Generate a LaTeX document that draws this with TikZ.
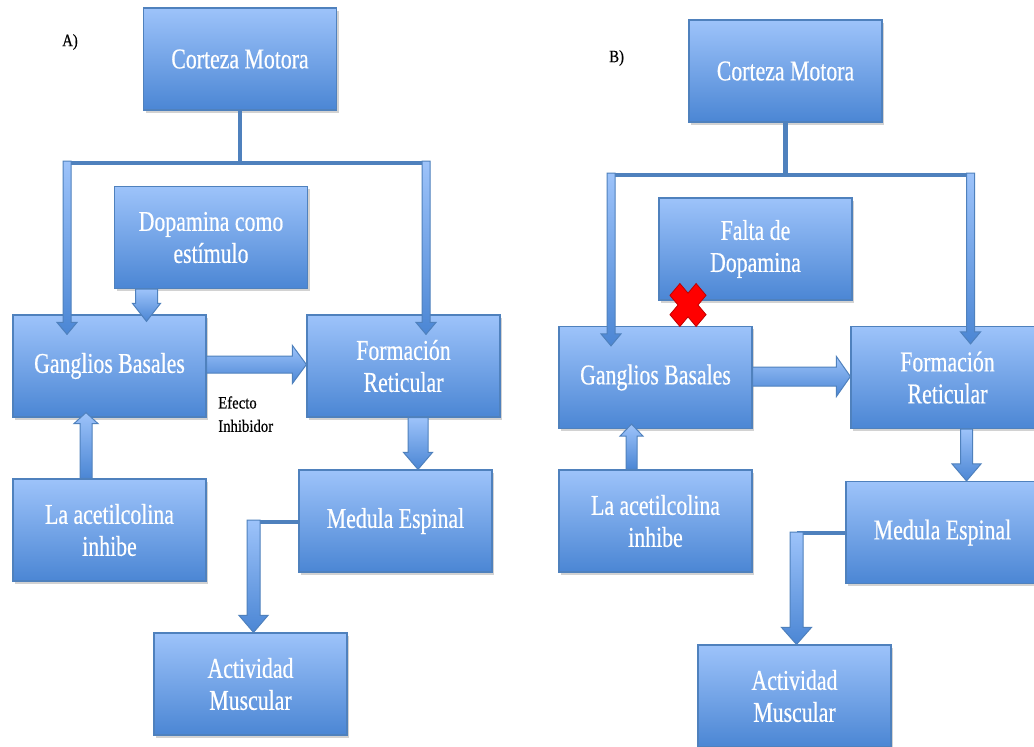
\documentclass[tikz,border=0pt]{standalone}
\usepackage{fontspec}
\setmainfont{Liberation Serif}[FakeStretch=0.76,FakeBold=0.5]
\newfontfamily\lblfont{Liberation Serif}[FakeStretch=0.85,FakeBold=0.5]
\usetikzlibrary{calc,shadows}
\definecolor{boxtop}{HTML}{9DC3FA}
\definecolor{boxmid}{HTML}{84AEEE}
\definecolor{boxbot}{HTML}{4B86D4}
\definecolor{boxline}{HTML}{4F81BD}
\definecolor{barblue}{HTML}{4F81BD}
\definecolor{xred}{HTML}{FF0000}
\definecolor{xdark}{HTML}{C00000}
\tikzset{
  box/.style={rectangle, draw=boxline, line width=0.9pt, top color=boxtop, middle color=boxmid, bottom color=boxbot,
    minimum width=144.75pt, minimum height=76.5pt, inner sep=0pt, align=center, text=white,
    font=\fontsize{21.5}{24}\selectfont,
    drop shadow={shadow xshift=1.5pt, shadow yshift=-2.2pt, opacity=0.25, fill=black!70}},
  blk/.style={draw=boxline, line width=0.75pt, top color=boxtop, bottom color=boxbot},
  bar/.style={draw=barblue, line width=3.5pt},
  lbl/.style={font=\lblfont\fontsize{13}{17.5}\selectfont, text=black, align=left, inner sep=0pt},
}
% vertical block arrow: #1 start, #2 tip, #3 shaft half width, #4 head half width, #5 head length (sign = direction)
\newcommand\blkv[5]{%
  \path[blk] ($(#1)+({-(#3)},0)$) -- ($(#2)+({-(#3)},{-(#5)})$) -- ($(#2)+({-(#4)},{-(#5)})$) -- (#2)
    -- ($(#2)+({#4},{-(#5)})$) -- ($(#2)+({#3},{-(#5)})$) -- ($(#1)+({#3},0)$) -- cycle;}
% horizontal block arrow (pointing right)
\newcommand\blkh[5]{%
  \path[blk] ($(#1)+(0,{-(#3)})$) -- ($(#2)+({-(#5)},{-(#3)})$) -- ($(#2)+({-(#5)},{-(#4)})$) -- (#2)
    -- ($(#2)+({-(#5)},{#4})$) -- ($(#2)+({-(#5)},{#3})$) -- ($(#1)+(0,{#3})$) -- cycle;}
\begin{document}
\begin{tikzpicture}[x=0.75pt,y=-0.75pt]
\useasboundingbox (0,0) rectangle (1034,746);
\clip (0,0) rectangle (1034,746);
\fill[white] (0,0) rectangle (1034,746);

% ---------------- Panel A ----------------
\node[lbl, anchor=west] (la) at (62,42) {A)};
\node[box] (cmA) at (240,59) {Corteza Motora};
\node[box] (dopA) at (211,237.5) {Dopamina como\\estímulo};
\node[box] (gbA) at (109.5,366) {Ganglios Basales};
\node[box] (frA) at (403.5,366) {Formación\\Reticular};
\node[box] (acA) at (109.5,530) {La acetilcolina\\inhibe};
\node[box] (meA) at (395.5,521) {Medula Espinal};
\node[box] (amA) at (250.5,684) {Actividad\\Muscular};
\node[lbl, anchor=north west] (ef) at (218,396) {Efecto\\Inhibidor};

\coordinate (jA) at ($(cmA.south)+(0,53)$);
\draw[bar] (cmA.south) -- (jA);
\draw[bar] (63,163) -- (430,163);
\coordinate (aL1) at (67,161);
\coordinate (aL2) at ($(aL1 |- gbA.north)+(0,20)$);
\blkv{aL1}{aL2}{4}{10}{12}
\coordinate (aR1) at (426,161);
\coordinate (aR2) at ($(aR1 |- frA.north)+(0,20)$);
\blkv{aR1}{aR2}{4}{10}{12}
\coordinate (aD1) at ($(dopA.south)+(-64.5,0)$);
\coordinate (aD2) at ($(aD1 |- gbA.north)+(0,7)$);
\blkv{aD1}{aD2}{11}{14}{18}
\coordinate (aG1) at ($(gbA.east)+(0,-1.5)$);
\coordinate (aG2) at (aG1 -| frA.west);
\blkh{aG1}{aG2}{8.5}{19}{14}
\coordinate (aA1) at ($(acA.north)+(-23.5,0)$);
\coordinate (aA2) at ($(aA1 |- gbA.south)+(0,-5)$);
\blkv{aA1}{aA2}{6}{12}{-11}
\coordinate (aF1) at ($(frA.south)+(14.5,0)$);
\coordinate (aF2) at (aF1 |- meA.north);
\blkv{aF1}{aF2}{10}{14.5}{17}
\coordinate (aM0) at ($(meA.west)+(0,1)$);
\coordinate (aM1) at ($(aM0 -| amA.north)+(3,-2)$);
\coordinate (aM2) at (aM1 |- amA.north);
\draw[bar] (aM0) -- ($(aM1)+(0,2)$);
\blkv{aM1}{aM2}{6.5}{14.5}{17}

% ---------------- Panel B ----------------
\node[lbl, anchor=west] (lb) at (609,58) {B)};
\node[box] (cmB) at (785.5,71) {Corteza Motora};
\node[box] (fdB) at (755.5,249) {Falta de\\Dopamina};
\node[box] (gbB) at (655.5,377.5) {Ganglios Basales};
\node[box] (frB) at (947.5,377.5) {Formación\\Reticular};
\node[box] (acB) at (655.5,521) {La acetilcolina\\inhibe};
\node[box] (meB) at (942.5,532.5) {Medula Espinal};
\node[box] (amB) at (794.5,696) {Actividad\\Muscular};

\coordinate (jB) at ($(cmB.south)+(0,53)$);
\draw[bar] (cmB.south) -- (jB);
\draw[bar] (607,175) -- (974,175);
\coordinate (bL1) at (611,173);
\coordinate (bL2) at ($(bL1 |- gbB.north)+(0,20)$);
\blkv{bL1}{bL2}{4}{10}{12}
\coordinate (bR1) at (970.5,173);
\coordinate (bR2) at ($(bR1 |- frB.north)+(0,18)$);
\blkv{bR1}{bR2}{4}{10}{12}
\coordinate (bG1) at ($(gbB.east)+(0,-1)$);
\coordinate (bG2) at (bG1 -| frB.west);
\blkh{bG1}{bG2}{9.5}{20}{14}
\coordinate (bA1) at ($(acB.north)+(-24,0)$);
\coordinate (bA2) at ($(bA1 |- gbB.south)+(0,-5)$);
\blkv{bA1}{bA2}{5.5}{11.5}{-12}
\coordinate (bF1) at ($(frB.south)+(19,0)$);
\coordinate (bF2) at (bF1 |- meB.north);
\blkv{bF1}{bF2}{6}{14.5}{17}
\coordinate (bM0) at ($(meB.west)+(0,0.5)$);
\coordinate (bM1) at ($(bM0 -| amB.north)+(2,-1)$);
\coordinate (bM2) at (bM1 |- amB.north);
\draw[bar] (bM0) -- ($(bM1)+(0,1)$);
\blkv{bM1}{bM2}{6.5}{15}{17}

% red cross
\begin{scope}[shift={(688,305)}, xscale=18.5, yscale=22, rotate=45]
  \path[fill=xred, draw=xdark, line width=0.6pt] (-0.38,1) -- (0.38,1) -- (0.38,0.38) -- (1,0.38) -- (1,-0.38) -- (0.38,-0.38)
    -- (0.38,-1) -- (-0.38,-1) -- (-0.38,-0.38) -- (-1,-0.38) -- (-1,0.38) -- (-0.38,0.38) -- cycle;
\end{scope}
\end{tikzpicture}
\end{document}
